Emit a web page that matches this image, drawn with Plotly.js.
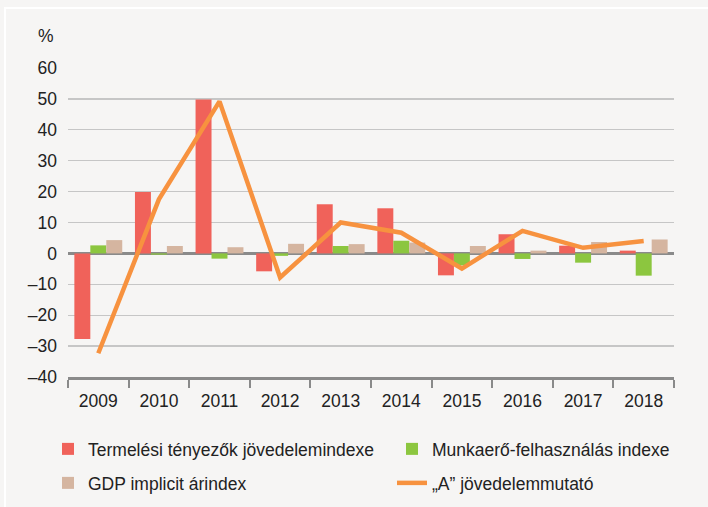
<!DOCTYPE html>
<html>
<head>
<meta charset="utf-8">
<script src="https://cdn.plot.ly/plotly-3.0.1.min.js"></script>
<style>
  html, body { margin:0; padding:0; background:#f6f5f4; }
  #frame { position:absolute; left:4px; top:7px; width:720px; height:520px; border-left:2px solid #ffffff; border-top:2px solid #ffffff; pointer-events:none; }
  #chart { position:absolute; left:0; top:0; width:708px; height:507px; }
</style>
</head>
<body>
<div id="frame"></div>
<div id="chart"></div>
<script>
const years = ['2009','2010','2011','2012','2013','2014','2015','2016','2017','2018'];
const termelesi = [-27.7, 19.9, 49.8, -5.8, 15.9, 14.6, -7.1, 6.2, 2.5, 0.9];
const munkaero = [2.6, -0.4, -1.7, -0.8, 2.4, 4.1, -3.9, -1.8, -3.0, -7.2];
const gdpImplicit = [4.3, 2.4, 2.0, 3.1, 3.0, 3.5, 2.4, 0.9, 3.7, 4.5];
const aMutato = [-32.3, 17.5, 49.2, -7.8, 10.0, 6.7, -4.9, 7.3, 1.8, 4.0];
const yTicks = [-40, -30, -20, -10, 0, 10, 20, 30, 40, 50, 60];
const yTickText = yTicks.map(v => v < 0 ? '\u2013' + Math.abs(v) : String(v));

const FONT = 'Liberation Sans, Arial, sans-serif';
const traces = [
  { type:'bar', x:years, y:termelesi, name:'Termelési tényezők jövedelemindexe', marker:{color:'#f0625a'}, legend:'legend' },
  { type:'bar', x:years, y:munkaero, name:'Munkaerő-felhasználás indexe', marker:{color:'#8cc63f'}, legend:'legend2' },
  { type:'bar', x:years, y:gdpImplicit, name:'GDP implicit árindex', marker:{color:'#d5b5a0'}, legend:'legend3' },
  { type:'scatter', mode:'lines', x:years, y:aMutato, name:'„A” jövedelemmutató', line:{color:'#f7923f', width:4.5}, legend:'legend4' }
];

function leg(xpx, ypx) {
  return {
    orientation:'h', xref:'container', yref:'container', xanchor:'left', yanchor:'middle',
    x:xpx/708, y:1-ypx/507,
    bgcolor:'rgba(0,0,0,0)', font:{family:FONT, size:17.5, color:'#222'},
    itemclick:false, itemdoubleclick:false
  };
}

const layout = {
  width:708, height:507,
  margin:{l:68, r:34, t:68, b:130},
  paper_bgcolor:'rgba(0,0,0,0)', plot_bgcolor:'rgba(0,0,0,0)',
  font:{family:FONT, size:17.5, color:'#222'},
  barmode:'group', bargap:0.21, bargroupgap:0,
  showlegend:true,
  legend: leg(48, 449),
  legend2: leg(392, 449),
  legend3: leg(48, 483),
  legend4: leg(392, 483),
  xaxis:{
    type:'category', tickson:'boundaries', ticks:'outside', ticklen:8, tickwidth:2, tickcolor:'#8a8a8a',
    showline:true, linecolor:'#8a8a8a', linewidth:2.5, showgrid:false, zeroline:false,
    tickfont:{family:FONT, size:17.5, color:'#222'}, ticklabelstandoff:6
  },
  yaxis:{
    range:[-40,60], tickvals:yTicks, ticktext:yTickText, showline:false, ticks:'',
    gridcolor:'#c6c6c6', gridwidth:1.3, zeroline:true, zerolinecolor:'#8a8a8a', zerolinewidth:2.5,
    tickfont:{family:FONT, size:17.5, color:'#222'}, ticklabelstandoff:10
  },
  annotations:[
    { text:'%', xref:'paper', yref:'paper', x:(45.5-68)/606, y:(377-36)/309, xanchor:'center', yanchor:'middle', showarrow:false, font:{family:FONT, size:17.5, color:'#222'} }
  ]
};

Plotly.newPlot('chart', traces, layout, {displayModeBar:false, staticPlot:true});
</script>
</body>
</html>
